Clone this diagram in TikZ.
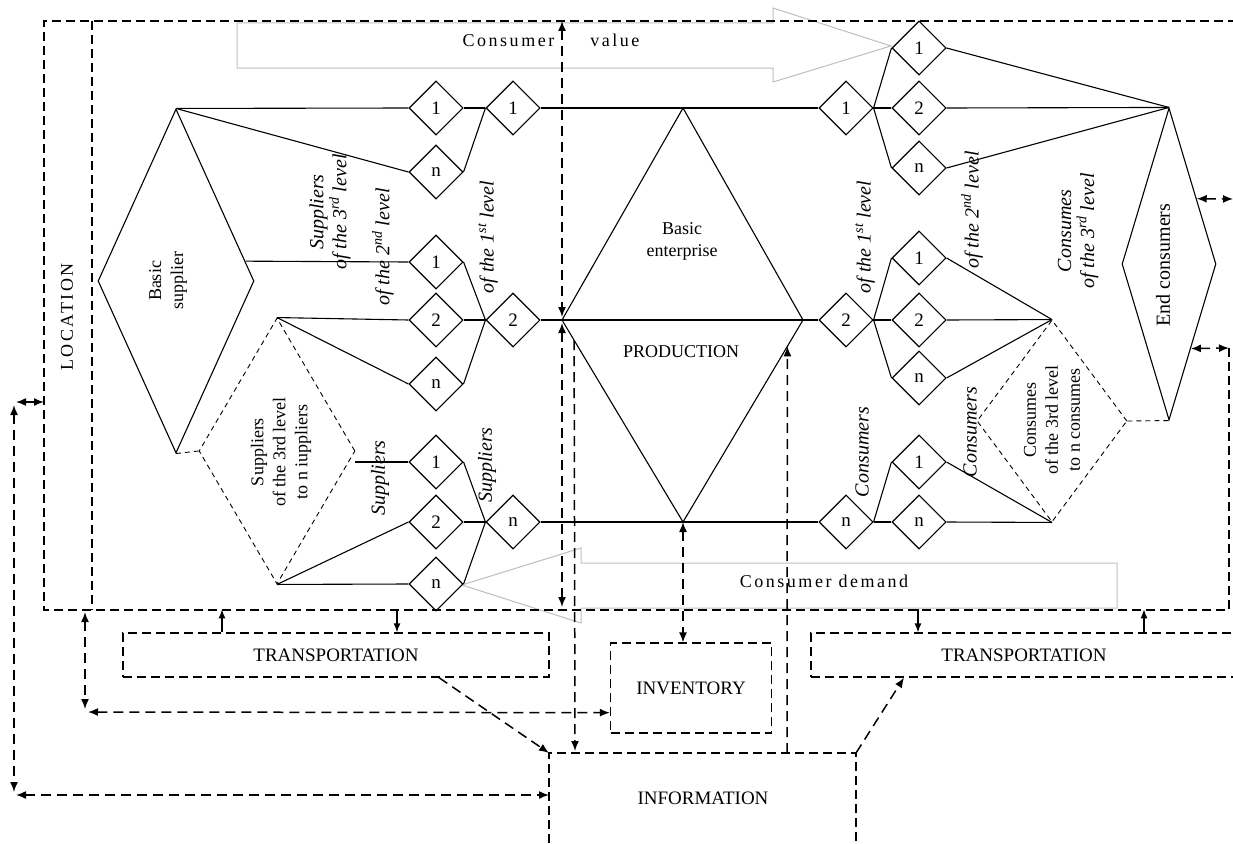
\documentclass[tikz,border=0pt]{standalone}
\usepackage{fontspec}
\setmainfont{Liberation Serif}
\newfontfamily\spacedfont[LetterSpace=14]{Liberation Serif}
\usepackage{tikz}
\usetikzlibrary{arrows.meta,calc,positioning,shapes.geometric}
\definecolor{shadegray}{RGB}{190,190,190}
\tikzset{%
	cell/.style     = {draw, diamond, minimum width=54pt, minimum height=54pt, inner sep=0pt, font=\fontsize{19}{22}\selectfont},
	bigcell/.style  = {draw, diamond, inner sep=0pt},
	dotcell/.style  = {bigcell, line width=0.9pt, dash pattern=on 5pt off 4pt},
	plain/.style    = {align=center, font=\fontsize{18}{22}\selectfont},
	vlabel/.style   = {rotate=90, align=center, font=\fontsize{20}{23}\selectfont\itshape},
	spaced/.style   = {font=\spacedfont\fontsize{18}{22}\selectfont},
	frameline/.style= {line width=1.1pt, dash pattern=on 9pt off 5pt},
	boxline/.style  = {line width=1.3pt, dash pattern=on 9pt off 5pt},
	dbox/.style     = {draw, boxline, minimum width=426pt, minimum height=44pt, font=\fontsize{19}{22}\selectfont},
	flow/.style     = {line width=1.5pt, dash pattern=on 10pt off 6pt, >={Latex[length=10pt,width=8pt]}},
	push/.style     = {line width=1.3pt, -{Latex[length=9pt,width=7pt]}},
	bigarrow/.style = {draw=shadegray, line width=1pt},
}
\begin{document}
\begin{tikzpicture}[x=1pt,y=-1pt,line width=1.1pt]
	\useasboundingbox (0,0) rectangle (1233,843);
	% block arrows
	\draw[bigarrow] (237,23) -- (773,23) -- (773,8) -- (891,46) -- (773,82) -- (773,68) -- (237,68) -- cycle;
	\node[spaced] (cval) at (551,40) {Consumer\hspace{36pt}value};
	\draw[bigarrow] (1117,563) -- (581,563) -- (581,548) -- (462,585) -- (581,623) -- (581,608) -- (1117,608) -- cycle;
	\node[spaced] (cdem) at (824,581) {Consumer demand};
	% location frame
	\coordinate (loc-nw) at (44,21);
	\coordinate (loc-sw) at (44,610);
	\coordinate (loc-se) at (1229,610);
	\draw[frameline] (1229,348) -- (loc-se) -- (loc-sw) -- (loc-nw) -- (1233,21);
	\draw[frameline] (92,21) -- (92,610);
	\node[spaced, rotate=90] (loc) at (67,317) {LOCATION};
	% suppliers
	\node[bigcell, minimum width=156pt, minimum height=344pt] (bsup) at (176,281) {};
	\node[plain, rotate=90] at (168,281) {Basic\\supplier};
	\node[dotcell, minimum width=156pt, minimum height=266pt] (s3) at (277,451) {};
	\node[plain, rotate=90] at (281,452) {Suppliers\\of the 3rd level\\to n iuppliers};
	\foreach \name/\y/\t in {a11/108/1,a1n/172/n,a21/262/1,a22/320/2,a2n/384/n,a31/462/1,a32/522/2,a3n/584/n}
		\node[cell] (\name) at (436,\y) {\t};
	\foreach \name/\y/\t in {b1/108/1,b2/320/2,b3/522/n}
		\node[cell] (\name) at (513,\y) {\t};
	\draw (bsup.north) -- (a11.west);
	\draw (bsup.north) -- (a1n.west);
	\draw ($(bsup.north)!.885!(bsup.east)$) -- (a21.west);
	\draw (s3.north) -- (a22.west);
	\draw (s3.north) -- (a2n.west);
	\draw (a31.west -| s3.east) -- (a31.west);
	\draw (s3.south) -- (a32.west);
	\draw (s3.south) -- (a3n.west);
	\draw[line width=0.9pt, dash pattern=on 5pt off 4pt] (bsup.south) -- (s3.west);
	\foreach \s/\t in {a11/b1,a1n/b1,a21/b2,a22/b2,a2n/b2,a31/b3,a32/b3,a3n/b3}
		\draw (\s.east) -- (\t.west);
	\node[vlabel] at (330,212) {Suppliers\\of the 3\textsuperscript{rd} level};
	\node[vlabel] at (383,247) {of the 2\textsuperscript{nd} level};
	\node[vlabel] at (488,237) {of the 1\textsuperscript{st} level};
	\node[vlabel] at (380,478) {Suppliers};
	\node[vlabel] at (487,465) {Suppliers};
	% basic enterprise
	\coordinate (ent-t) at (683,108);
	\coordinate (ent-l) at (562,320);
	\coordinate (ent-r) at (803,320);
	\coordinate (ent-b) at (683,522);
	\draw (ent-l) -- (ent-t) -- (ent-r) -- (ent-b) -- cycle;
	\draw (ent-l) -- (ent-r);
	\node[plain] at (682,241) {Basic\\enterprise};
	\node[plain] at (681,352) {PRODUCTION};
	% consumers
	\foreach \name/\y/\t in {c1/108/1,c2/320/2,c3/522/n}
		\node[cell] (\name) at (846,\y) {\t};
	\foreach \name/\y/\t in {d11/48/1,d12/108/2,d1n/168/n,d21/258/1,d22/320/2,d2n/378/n,d31/462/1,d3n/522/n}
		\node[cell] (\name) at (919,\y) {\t};
	\node[bigcell, minimum width=94pt, minimum height=312pt] (ec) at (1169,264) {};
	\node[plain, rotate=90, font=\fontsize{20}{23}\selectfont] at (1163,265) {End consumers};
	\node[dotcell, minimum width=150pt, minimum height=202pt] (cs) at (1052,421) {};
	\node[plain, rotate=90] at (1052,420) {Consumes\\of the 3rd level\\to n consumes};
	\draw (b1.east) -- (c1.west);
	\draw (b2.east) -- (ent-l);
	\draw (ent-r) -- (c2.west);
	\draw (b3.east) -- (c3.west);
	\foreach \s/\t in {c1/d11,c1/d12,c1/d1n,c2/d21,c2/d22,c2/d2n,c3/d31,c3/d3n}
		\draw (\s.east) -- (\t.west);
	\foreach \s in {d11,d12,d1n}
		\draw (\s.east) -- (ec.north);
	\foreach \s in {d21,d22,d2n}
		\draw (\s.east) -- (cs.north);
	\foreach \s in {d31,d3n}
		\draw (\s.east) -- (cs.south);
	\draw[line width=0.9pt, dash pattern=on 5pt off 4pt] (cs.east) -- (ec.south);
	\node[vlabel] at (865,237) {of the 1\textsuperscript{st} level};
	\node[vlabel] at (972,210) {of the 2\textsuperscript{nd} level};
	\node[vlabel] at (1078,231) {Consumes\\of the 3\textsuperscript{rd} level};
	\node[vlabel] at (862,452) {Consumers};
	\node[vlabel] at (970,432) {Consumers};
	% lower boxes
	\node[dbox] (transl) at (336,655) {TRANSPORTATION};
	\node[dbox] (transr) at (1024,655) {TRANSPORTATION};
	\node[dbox, minimum width=161pt, minimum height=90pt] (inv) at (691,688) {INVENTORY};
	\coordinate (info-l) at (549,753);
	\coordinate (info-r) at (856,753);
	\draw[boxline] (549,843) -- (info-l) -- (info-r) -- (856,843);
	\node[plain, font=\fontsize{19}{22}\selectfont] (info) at (703,798) {INFORMATION};
	% flows
	\draw[flow,<->] (562,21) -- ($(ent-l)+(0,-3)$);
	\draw[flow,<->] ($(ent-l)+(0,3)$) -- (562,607);
	\draw[flow,->] ($(ent-l)!.1!(ent-b)$) -- (575,751);
	\draw[flow,->] (787,753) -- ($(ent-r)!.13!(ent-b)$);
	\draw[flow,<->] (ent-b) -- (ent-b |- inv.north);
	\draw[flow,->] ($(transl.south)+(103,0)$) -- (info-l);
	\draw[flow,->] (info-r) -- ($(transr.south)+(-120,0)$);
	\draw[flow,<->] (14,405) -- (14,792);
	\draw[flow,<->] (16,402) -- (44,402);
	\draw[flow,<->] (16,795) -- (549,795);
	\draw[flow,<->] (85,612) -- (85,709);
	\draw[flow,<->] (88,712) -- ($(inv.south west)+(0,-21)$);
	\draw[flow,<->] ($(ec.north)!.583!(ec.east)$) -- (1233,199);
	\draw[flow,<->] ($(ec.east)!.54!(ec.south)$) -- (1229,348);
	\draw[push] ($(transl.north)+(-114,0)$) -- +(0,-23);
	\draw[push] ($(transl.north)+(61,-23)$) -- +(0,23);
	\draw[push] ($(transr.north)+(-106,-23)$) -- +(0,23);
	\draw[push] ($(transr.north)+(120,0)$) -- +(0,-23);
\end{tikzpicture}
\end{document}
